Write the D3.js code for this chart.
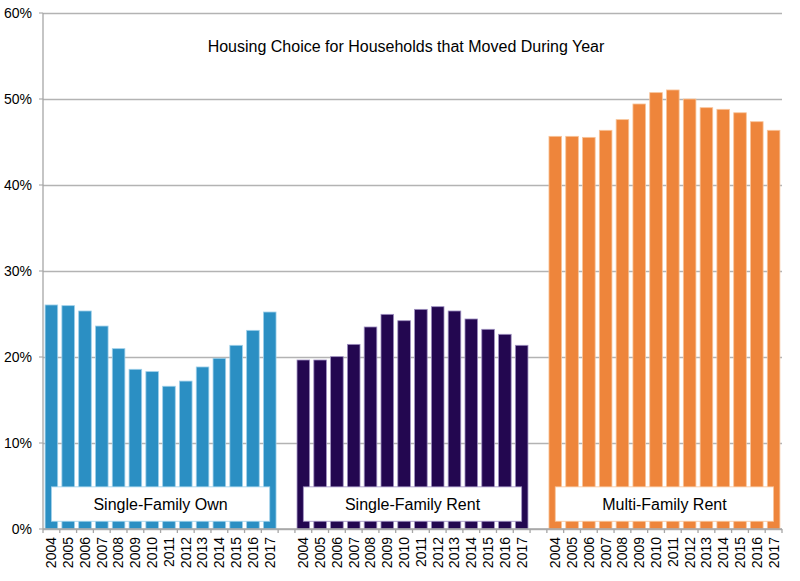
<!DOCTYPE html>
<html>
<head>
<meta charset="utf-8">
<script src="https://cdn.jsdelivr.net/npm/d3@7"></script>
<style>
  body { margin: 0; background: #fff; }
  text { font-family: "Liberation Sans", Arial, sans-serif; fill: #000; }
</style>
</head>
<body>
<div id="chart"></div>
<script>
// chart data
var years = ["2004","2005","2006","2007","2008","2009","2010","2011","2012","2013","2014","2015","2016","2017"];
var groupNames = ["Single-Family Own", "Single-Family Rent", "Multi-Family Rent"];
var sfOwn  = [26.05, 25.97, 25.35, 23.6, 20.97, 18.57, 18.3, 16.6, 17.2, 18.84, 19.85, 21.36, 23.1, 25.23];
var sfRent = [19.65, 19.65, 20.04, 21.47, 23.49, 24.96, 24.22, 25.54, 25.85, 25.35, 24.42, 23.22, 22.64, 21.36];
var mfRent = [45.66, 45.66, 45.54, 46.36, 47.6, 49.42, 50.74, 51.05, 50.0, 48.99, 48.8, 48.4, 47.36, 46.36];
var yTicks = [0, 10, 20, 30, 40, 50, 60];
var colors = ["#2b8fc3", "#230750", "#ee853b"];
var strokes = ["#9fd0ea", "#9e8fc0", "#f8c49a"];
var title = "Housing Choice for Households that Moved During Year";

var totalWidth = 800, totalHeight = 581;
var margin = {top: 13, right: 18, bottom: 52, left: 43},
    width = totalWidth - margin.left - margin.right,
    height = totalHeight - margin.top - margin.bottom;

var svg = d3.select("#chart").append("svg")
    .attr("width", totalWidth)
    .attr("height", totalHeight)
  .append("g")
    .attr("transform", "translate(" + margin.left + "," + margin.top + ")");

// build slots: 14 years, blank, 14 years, blank, 14 years
var series = [sfOwn, sfRent, mfRent];
var slots = [], bars = [];
series.forEach(function(vals, g) {
  if (g > 0) slots.push("gap" + g);
  years.forEach(function(y, i) {
    var key = g + "-" + y;
    slots.push(key);
    bars.push({key: key, group: g, year: y, value: vals[i]});
  });
});

var x = d3.scaleBand().domain(slots).range([0, width]).paddingInner(0.25).paddingOuter(0.125);
var step = x.step();
var y = d3.scaleLinear().domain([0, 60]).range([height, 0]);

// gridlines + y axis
var yAxis = svg.append("g")
    .call(d3.axisLeft(y).tickValues(yTicks).tickSize(-width).tickPadding(10)
      .tickFormat(function(d) { return d + "%"; }));
yAxis.select(".domain").remove();
yAxis.selectAll(".tick line").attr("stroke", "#b3b3b3").attr("stroke-width", 1.3);
yAxis.selectAll(".tick text").style("font-size", "14px").attr("fill", "#000").attr("x", -11);
// outward tick marks
svg.selectAll(".ytick").data(yTicks).enter().append("line")
    .attr("x1", -4).attr("x2", 0)
    .attr("y1", function(d) { return y(d); }).attr("y2", function(d) { return y(d); })
    .attr("stroke", "#b3b3b3").attr("stroke-width", 1.3);
svg.append("line")
    .attr("x1", 0).attr("x2", 0).attr("y1", 0).attr("y2", height)
    .attr("stroke", "#a6a6a6").attr("stroke-width", 1.3);

// bars
svg.selectAll("rect.bar").data(bars).enter().append("rect")
    .attr("class", "bar")
    .attr("x", function(d) { return x(d.key); })
    .attr("width", x.bandwidth())
    .attr("y", function(d) { return y(d.value); })
    .attr("height", function(d) { return height - y(d.value); })
    .attr("fill", function(d) { return colors[d.group]; })
    .attr("stroke", function(d) { return strokes[d.group]; })
    .attr("stroke-width", 0.8);

// x axis
svg.append("line")
    .attr("x1", 0).attr("x2", width).attr("y1", height).attr("y2", height)
    .attr("stroke", "#a6a6a6").attr("stroke-width", 1.3);
var bounds = d3.range(slots.length + 1);
svg.selectAll(".xtick").data(bounds).enter().append("line")
    .attr("x1", function(i) { return i * step; }).attr("x2", function(i) { return i * step; })
    .attr("y1", height).attr("y2", height + 4)
    .attr("stroke", "#a6a6a6").attr("stroke-width", 1.3);

var xAxis = svg.append("g")
    .attr("transform", "translate(0," + height + ")")
    .call(d3.axisBottom(x).tickValues(bars.map(function(d) { return d.key; }))
      .tickSize(0).tickFormat(function(k) { return k.split("-")[1]; }));
xAxis.select(".domain").remove();
xAxis.selectAll(".tick text")
    .style("font-size", "14px")
    .attr("fill", "#000")
    .attr("transform", "rotate(-90)")
    .attr("x", -8)
    .attr("y", 0)
    .attr("dy", "0.35em")
    .style("text-anchor", "end");

// group label boxes
groupNames.forEach(function(name, g) {
  var first = x(g + "-" + years[0]) + x.bandwidth() / 2;
  var last = x(g + "-" + years[years.length - 1]) + x.bandwidth() / 2;
  var top = y(4.9), bot = y(0.9);
  svg.append("rect")
      .attr("x", first).attr("y", top)
      .attr("width", last - first).attr("height", bot - top)
      .attr("fill", "#fff")
      .attr("stroke", strokes[g]).attr("stroke-width", 0.8);
  svg.append("text")
      .attr("x", (first + last) / 2)
      .attr("y", (top + bot) / 2)
      .attr("dy", "0.35em")
      .style("text-anchor", "middle")
      .style("font-size", "16px")
      .text(name);
});

// title
svg.append("text")
    .attr("x", 406 - margin.left)
    .attr("y", 46 - margin.top)
    .attr("dy", "0.35em")
    .style("text-anchor", "middle")
    .style("font-size", "16px")
    .text(title);
</script>
</body>
</html>
